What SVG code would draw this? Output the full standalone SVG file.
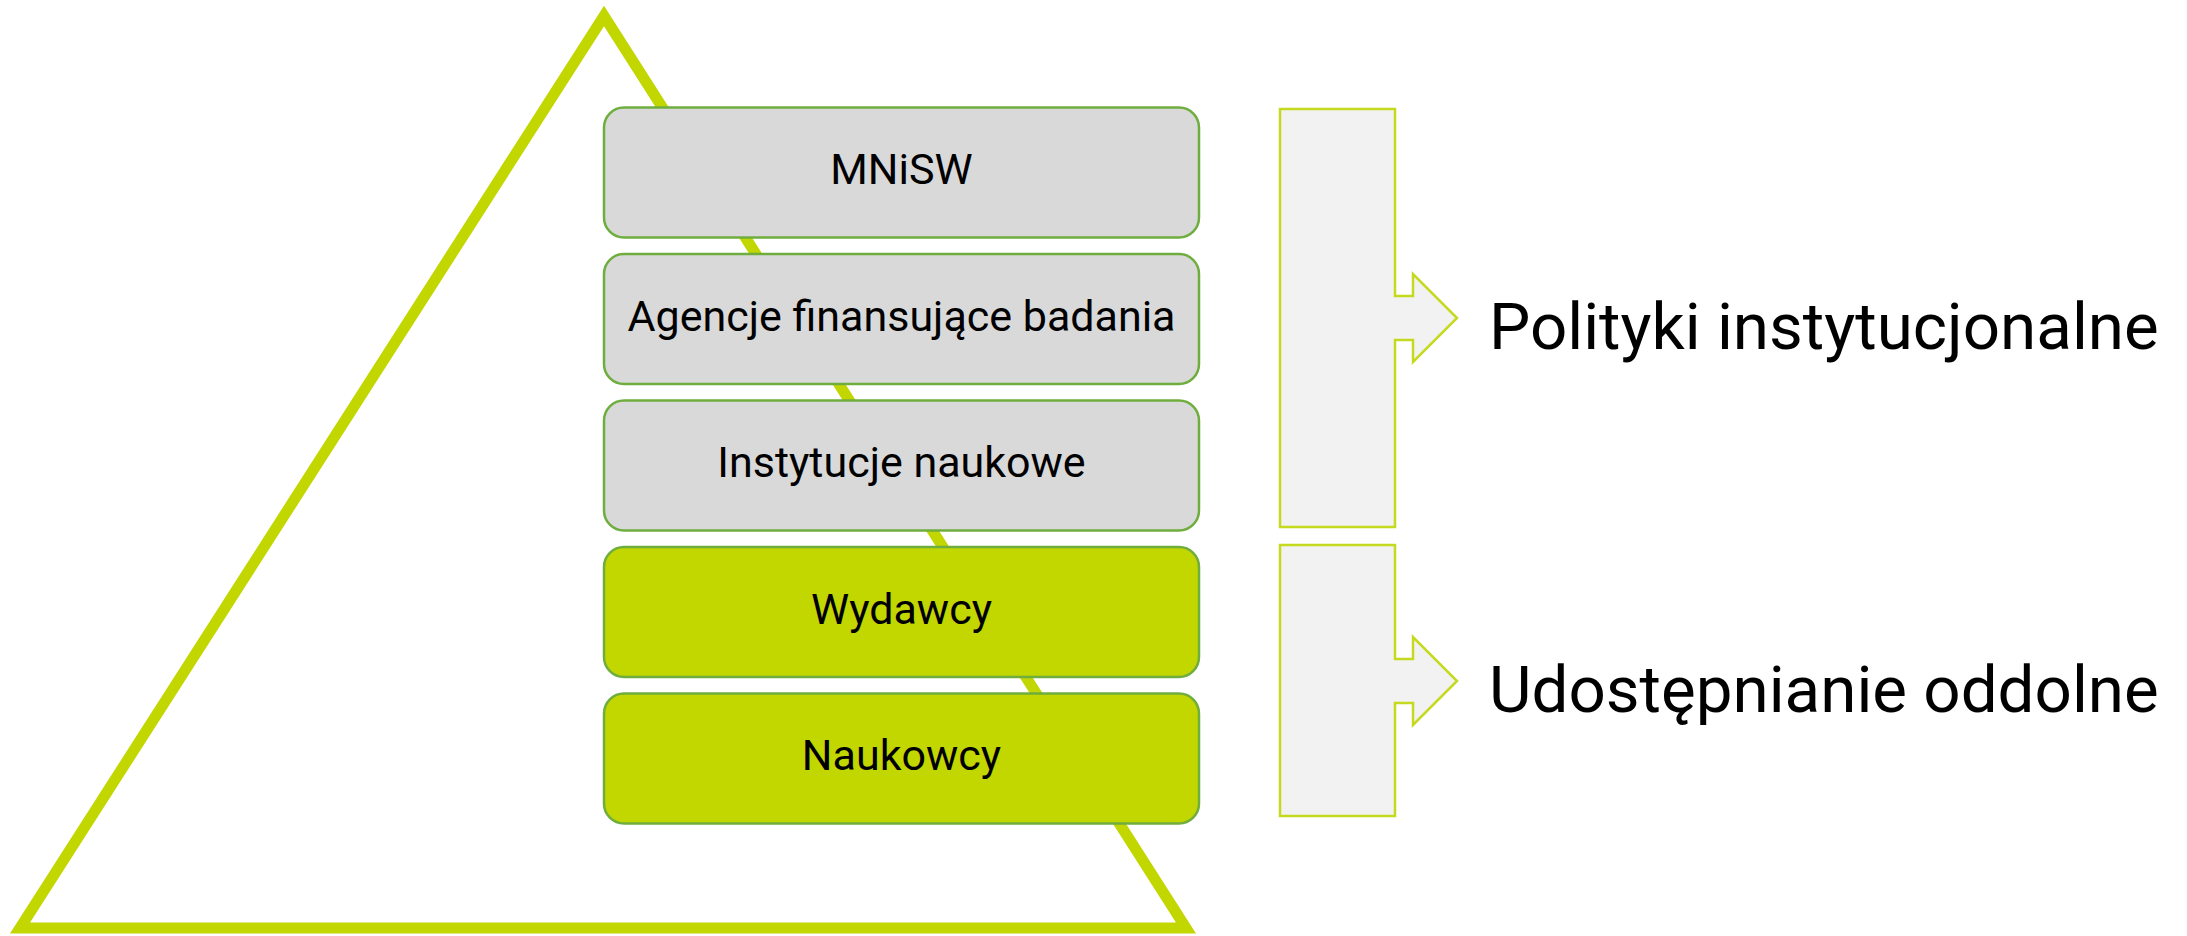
<svg xmlns="http://www.w3.org/2000/svg" width="2187" height="936" viewBox="0 0 2187 936">
  <style>
    .tri { fill: none; stroke: #C2D600; stroke-width: 11; stroke-linejoin: miter; }
    .box { stroke: #6FAE3E; stroke-width: 2.5; }
    .grey { fill: #D9D9D9; }
    .green { fill: #C2D600; }
    .lbl { font-family: Roboto, "Liberation Sans", sans-serif; font-size: 43px; fill: #000; text-anchor: middle; }
    .brace { fill: #F2F2F2; stroke: #C5DA1E; stroke-width: 2.5; }
    .side { font-family: Roboto, "Liberation Sans", sans-serif; font-size: 65.5px; fill: #000; }
  </style>
  <rect width="2187" height="936" fill="#FFFFFF"/>

  <g id="pyramid">
    <polygon class="tri" points="604,16 1186,928 20,928"/>
  </g>

  <g id="node-mnisw">
    <rect class="box grey" x="604" y="107.5" width="595" height="130" rx="20"/>
    <text class="lbl" x="901.5" y="184">MNiSW</text>
  </g>
  <g id="node-agencje">
    <rect class="box grey" x="604" y="254" width="595" height="130" rx="20"/>
    <text class="lbl" x="901.5" y="330.5">Agencje finansujące badania</text>
  </g>
  <g id="node-instytucje">
    <rect class="box grey" x="604" y="400.5" width="595" height="130" rx="20"/>
    <text class="lbl" x="901.5" y="477">Instytucje naukowe</text>
  </g>
  <g id="node-wydawcy">
    <rect class="box green" x="604" y="547" width="595" height="130" rx="20"/>
    <text class="lbl" x="901.5" y="623.5">Wydawcy</text>
  </g>
  <g id="node-naukowcy">
    <rect class="box green" x="604" y="693.5" width="595" height="130" rx="20"/>
    <text class="lbl" x="901.5" y="770">Naukowcy</text>
  </g>

  <g id="connectors">
    <path class="brace" d="M1280,109 H1395 V296 H1413 V274 L1457,318 L1413,362 V340 H1395 V527 H1280 Z"/>
    <path class="brace" d="M1280,545 H1395 V659 H1413 V637 L1457,681 L1413,725 V703 H1395 V816 H1280 Z"/>
  </g>

  <g id="node-polityki">
    <text class="side" x="1489" y="349">Polityki instytucjonalne</text>
  </g>
  <g id="node-udostepnianie">
    <text class="side" x="1489" y="712">Udostępnianie oddolne</text>
  </g>
</svg>
